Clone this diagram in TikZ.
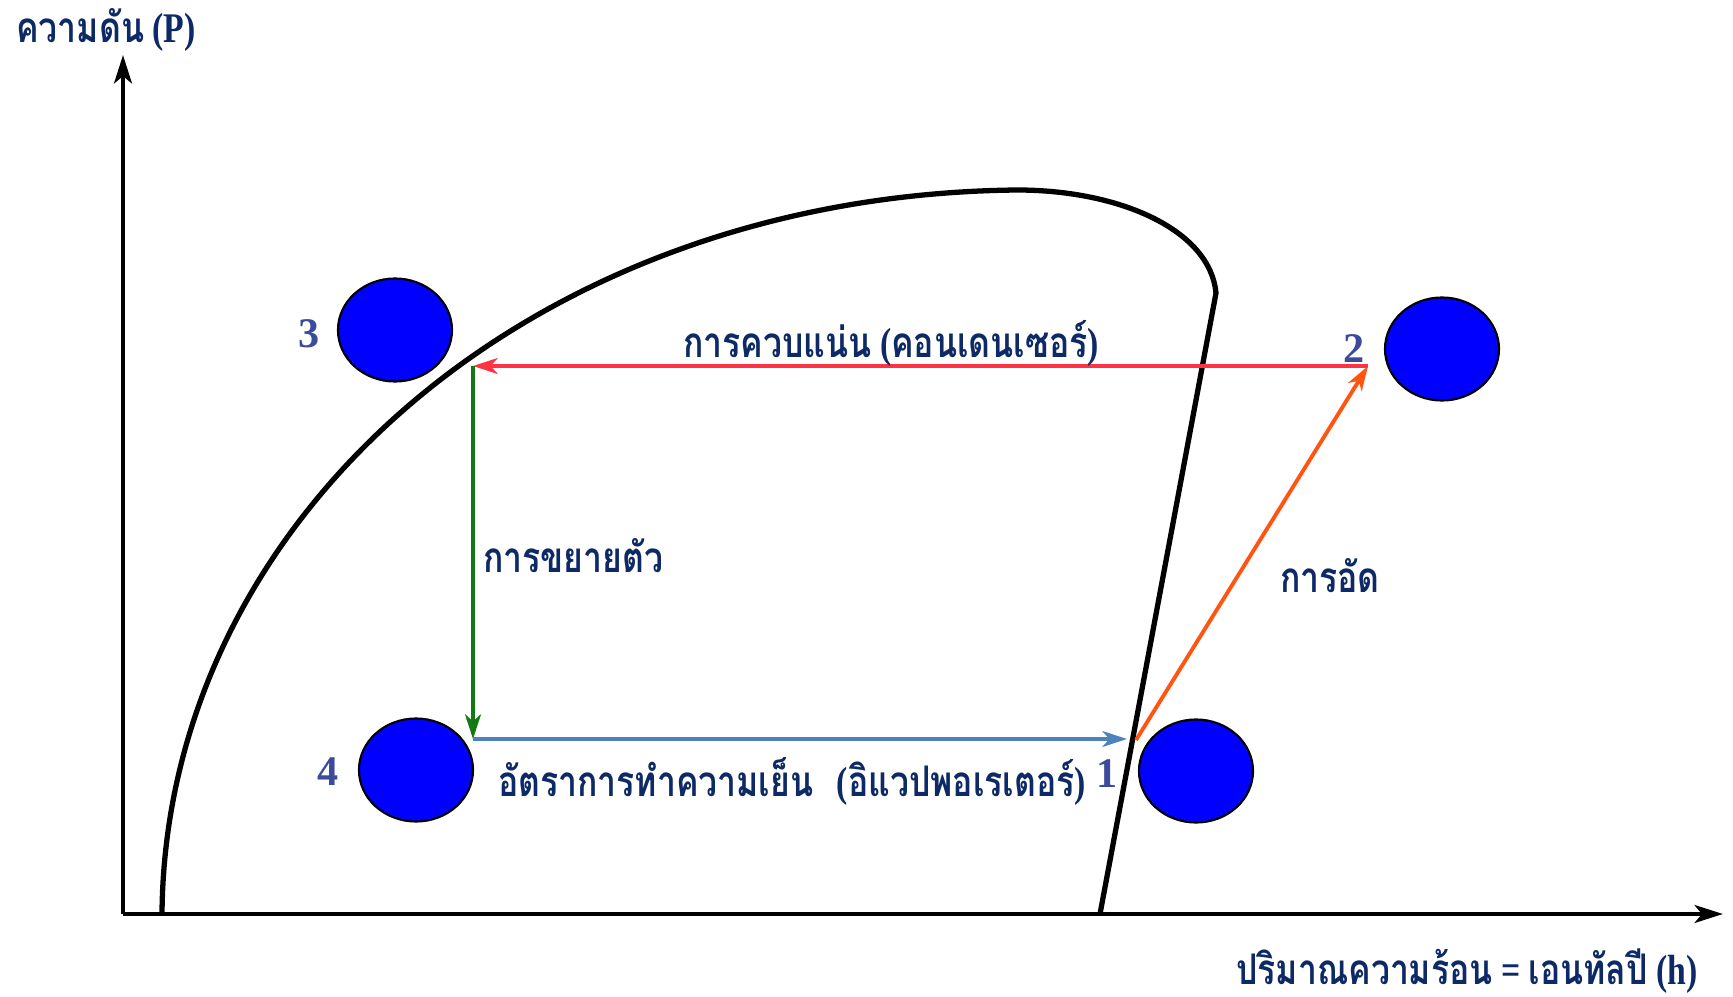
\documentclass[tikz,border=0pt]{standalone}
\usepackage{fontspec}
\setmainfont{Liberation Serif}
\newfontfamily\thaifont[Script=Thai]{Loma}
\usetikzlibrary{arrows.meta,shapes.geometric}
\definecolor{txtnavy}{HTML}{0D2A66}
\definecolor{numblue}{HTML}{3C4A9C}
\definecolor{condred}{HTML}{FF3344}
\definecolor{expgreen}{HTML}{137A13}
\definecolor{evapblue}{HTML}{4F81BD}
\definecolor{comporange}{HTML}{FF5511}
\newcommand\sqz[1]{\scalebox{0.8}[1]{#1}}

\begin{document}
\begin{tikzpicture}[x=0.01cm,y=-0.01cm,
  lbl/.style={text=txtnavy,font=\bfseries\fontsize{12}{14}\selectfont,inner sep=0pt},
  num/.style={text=numblue,font=\bfseries\fontsize{12}{14}\selectfont,inner sep=0pt},
  statept/.style={ellipse,draw,line width=0.6pt,fill=blue,minimum width=1.14cm,minimum height=1.03cm,inner sep=0pt},
  flow/.style={line width=1.1pt,-{Stealth[length=7pt,width=4.5pt,inset=2pt]}}]
\useasboundingbox (0,0) rectangle (1733,997);

% axes
\coordinate (o) at (123,914);
\coordinate (ytop) at (123,55);
\coordinate (xend) at (1723,914);
\draw[line width=1.4pt,-{Stealth[length=8pt,width=5pt,inset=2pt]}] (o)--(ytop);
\draw[line width=1.4pt,-{Stealth[length=8pt,width=5pt,inset=2pt]}] (o)--(xend);
\node[lbl] (ylab) at (106,30) {\sqz{{\thaifont ความดัน} (P)}};
\node[lbl] (xlab) at (1467,971) {\sqz{{\thaifont ปริมาณความร้อน} = {\thaifont เอนทัลปี} (h)}};

% saturation dome
\draw[line width=1.5pt] (162,914) .. controls (165,520) and (530,195) .. (1017,190)
  .. controls (1120,190) and (1210,230) .. (1216,293) -- (1100,914);

% cycle points
\coordinate (p1) at (1127,739);
\coordinate (p1c) at (1136,740);
\coordinate (p2) at (1368,366);
\coordinate (p3) at (473,366);
\coordinate (p4) at (473,739);

\draw[flow,condred] (p2)--(p3);
\draw[flow,expgreen] (p3)--(p4);
\draw[flow,evapblue] (p4)--(p1);
\draw[flow,comporange] (p1c)--(p2);

\node[lbl] (cond) at (891,343) {\sqz{{\thaifont การควบแน่น} ({\thaifont คอนเดนเซอร์})}};
\node[lbl] (expn) at (573,556) {\sqz{\thaifont การขยายตัว}};
\node[lbl] (comp) at (1330,576) {\sqz{\thaifont การอัด}};
\node[lbl] (evap) at (792,781) {\sqz{{\thaifont อัตราการทำความเย็น}\hspace{0.7em}({\thaifont อิแวปพอเรเตอร์})}};

% state markers
\node[statept] (s3) at (395,330) {};
\node[statept] (s2) at (1442,349) {};
\node[statept] (s4) at (416,770) {};
\node[statept] (s1) at (1196,771) {};
\node[num] (n3) at (309,334) {3};
\node[num] (n2) at (1354,349) {2};
\node[num] (n4) at (328,772) {4};
\node[num] (n1) at (1107,774) {1};
\end{tikzpicture}
\end{document}
